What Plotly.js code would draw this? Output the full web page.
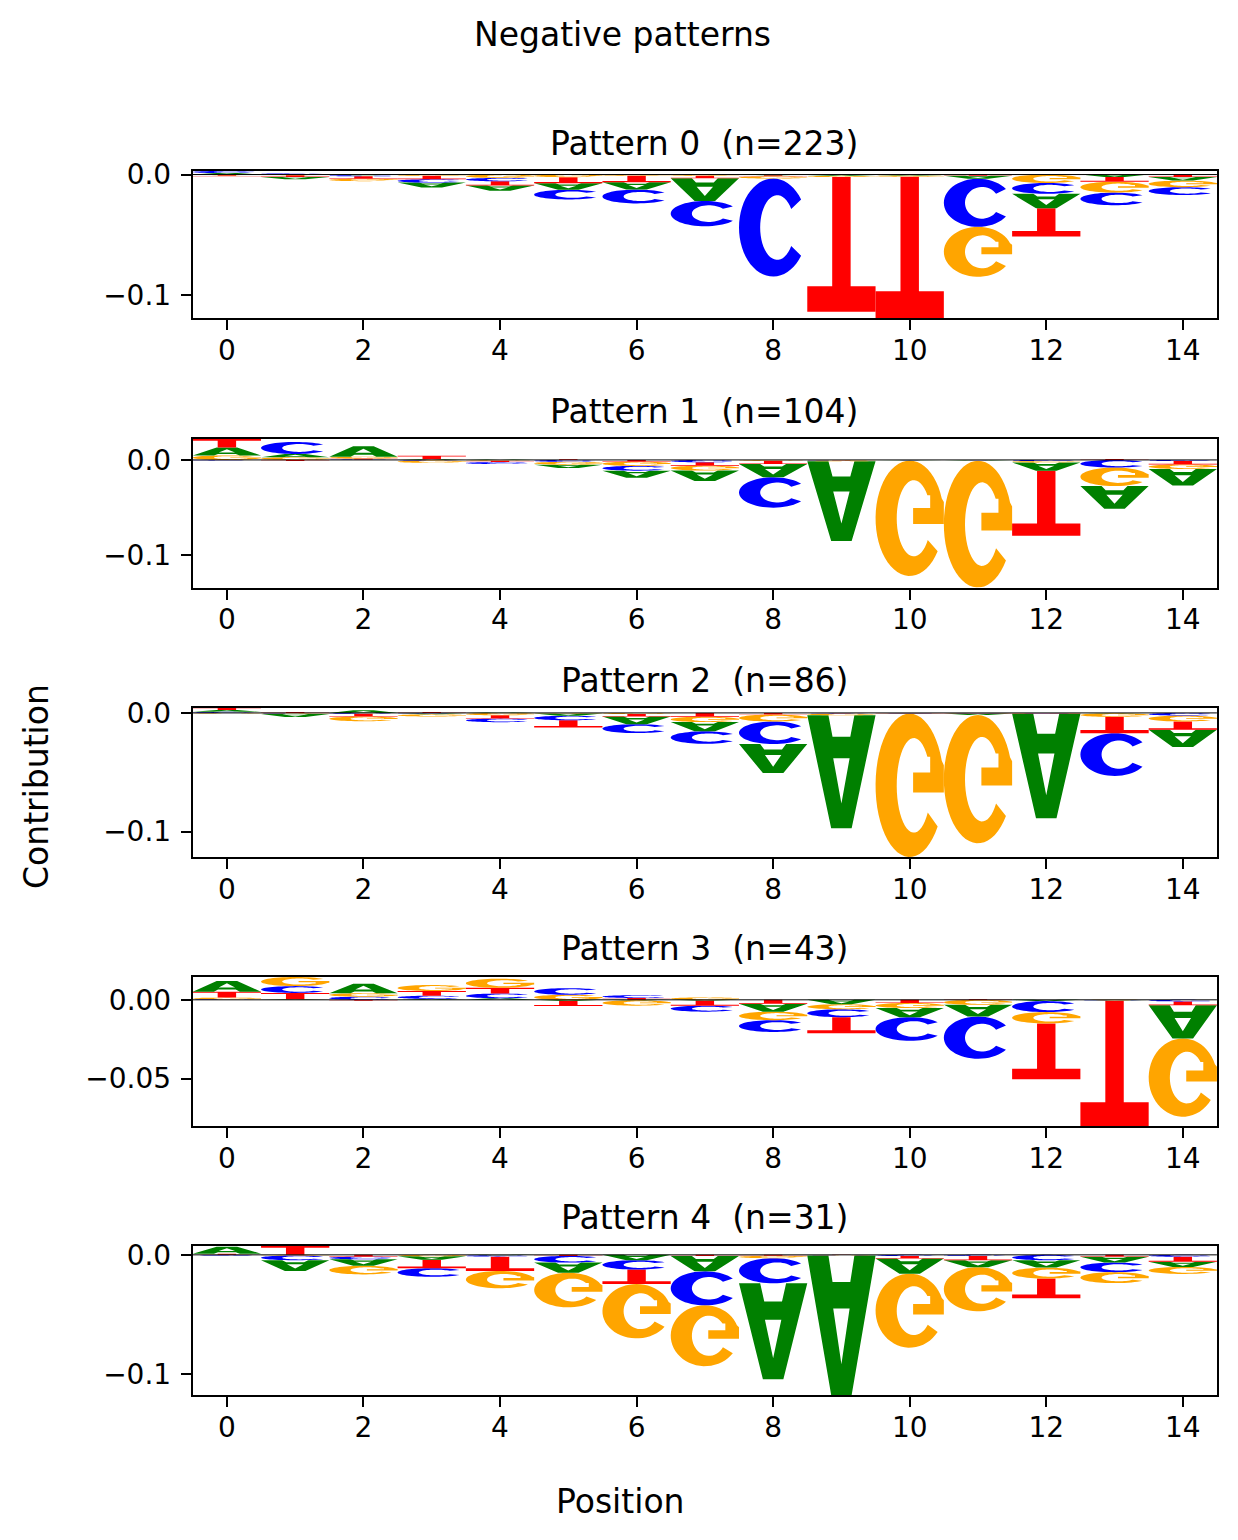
<!DOCTYPE html>
<html>
<head>
<meta charset="utf-8">
<script src="https://cdn.plot.ly/plotly-3.0.1.min.js"></script>
<style>
  body { margin: 0; background: #fff; }
  #logo { width: 1238px; height: 1540px; }
</style>
</head>
<body>
<div id="logo"></div>
<script>
// positions along the motif
var positions = [0, 1, 2, 3, 4, 5, 6, 7, 8, 9, 10, 11, 12, 13, 14];
var letters = ['A', 'C', 'G', 'T'];
var patternTitles = ['Pattern 0  (n=223)', 'Pattern 1  (n=104)', 'Pattern 2  (n=86)', 'Pattern 3  (n=43)', 'Pattern 4  (n=31)'];

// contribution per letter, read off the reference
// pattern 0
var p0A = [0.0012, -0.002, -0.0005, -0.004, -0.0042, -0.0055, -0.006, -0.019, -0.0005, -0.0008, -0.0005, -0.0025, -0.012, -0.002, -0.003];
var p0C = [0.0018, 0.001, -0.001, -0.0028, -0.0028, -0.008, -0.0115, -0.021, -0.0815, -0.0003, -0.0003, -0.040, -0.009, -0.0105, -0.0065];
var p0G = [-0.0005, -0.0005, -0.002, -0.0011, -0.0028, -0.0022, -0.001, -0.001, -0.0018, -0.001, -0.001, -0.0415, -0.007, -0.009, -0.0055];
var p0T = [-0.001, -0.0015, -0.002, -0.0028, -0.0036, -0.005, -0.0055, -0.002, -0.001, -0.112, -0.1175, -0.001, -0.0235, -0.004, -0.002];
// pattern 1
var p1A = [0.0082, 0.0035, 0.011, 0.0008, 0.0005, -0.0035, -0.0075, -0.011, -0.014, -0.084, -0.0003, -0.0005, -0.0088, -0.024, -0.0175];
var p1C = [-0.0005, 0.0126, 0.0005, -0.0006, -0.002, -0.002, -0.005, -0.0025, -0.032, -0.0003, -0.0002, -0.0002, -0.0012, -0.008, -0.0012];
var p1G = [0.0048, 0.0028, 0.0018, -0.0025, -0.0008, -0.003, -0.0045, -0.0052, -0.0008, -0.0008, -0.1215, -0.1335, -0.0015, -0.0195, -0.0048];
var p1T = [0.009, -0.001, 0.001, 0.0035, -0.0015, 0.0008, -0.0018, -0.0035, -0.0035, -0.0003, -0.0002, -0.0002, -0.0685, 0.001, -0.0035];
// pattern 2
var p2A = [0.0015, -0.0025, 0.0022, -0.0008, 0.0003, -0.002, -0.0065, -0.0078, -0.0245, -0.0952, -0.0002, -0.0014, -0.088, -0.0003, -0.0145];
var p2C = [0.0009, -0.0006, -0.0008, -0.0004, -0.003, -0.0038, -0.0075, -0.0105, -0.019, -0.0003, -0.0002, -0.0002, -0.0002, -0.036, -0.0022];
var p2G = [-0.0005, -0.0004, -0.004, -0.0018, -0.002, -0.0004, -0.001, -0.0045, -0.0058, -0.0014, -0.1208, -0.108, -0.0004, -0.003, -0.005];
var p2T = [0.0018, 0.0008, -0.0022, 0.0008, -0.0028, -0.006, -0.002, -0.0032, -0.0014, -0.0003, -0.0002, -0.0002, -0.0002, -0.0138, -0.007];
// pattern 3
var p3A = [0.0068, 0.0004, 0.006, 0.0006, 0.001, -0.0006, -0.0003, -0.0005, -0.005, -0.0028, -0.0058, -0.0074, -0.0008, -0.0002, -0.021];
var p3C = [0.0004, 0.0043, 0.002, 0.002, 0.003, 0.0042, 0.0017, -0.0038, -0.0075, -0.005, -0.015, -0.0268, -0.007, -0.0002, -0.001];
var p3G = [0.001, 0.0058, 0.0022, 0.0038, 0.0058, 0.0032, -0.0034, 0.0015, -0.0054, -0.0032, -0.0032, -0.0032, -0.0072, -0.0002, -0.0497];
var p3T = [0.0038, 0.004, -0.0006, 0.003, 0.0036, -0.0033, 0.0012, -0.0032, -0.0025, -0.0102, -0.002, 0.0005, -0.0354, -0.0795, -0.0025];
// pattern 4
var p4A = [0.0058, -0.009, -0.0055, -0.003, -0.0003, -0.0085, -0.0045, -0.0128, -0.0805, -0.1168, -0.0128, -0.0058, -0.0062, -0.005, -0.0044];
var p4C = [-0.0003, -0.004, -0.0022, -0.0072, -0.0012, -0.0056, -0.0078, -0.0285, -0.021, -0.0002, -0.001, -0.0009, -0.0045, -0.008, -0.0016];
var p4G = [-0.0002, -0.0005, -0.0072, -0.0012, -0.0145, -0.029, -0.0455, -0.051, -0.002, -0.0002, -0.062, -0.037, -0.0092, -0.0092, -0.0058];
var p4T = [0.001, 0.0074, -0.0015, -0.007, -0.012, -0.0009, -0.0122, -0.001, -0.0008, -0.0002, -0.002, -0.0036, -0.0165, -0.0015, -0.0042];

var patterns = [
    {A: p0A, C: p0C, G: p0G, T: p0T},
    {A: p1A, C: p1C, G: p1G, T: p1T},
    {A: p2A, C: p2C, G: p2G, T: p2T},
    {A: p3A, C: p3C, G: p3G, T: p3T},
    {A: p4A, C: p4C, G: p4G, T: p4T}
];

var colors = {A: '#008000', C: '#0000ff', G: '#ffa500', T: '#ff0000'};

///////////////////GLYPHS///////////////////
// outlines in a unit box, y up from the baseline
function arc(cx, cy, rx, ry, a0, a1, n) {
    var pts = [];
    for (var i = 0; i <= n; i++) {
        var a = (a0 + (a1 - a0) * i / n) * Math.PI / 180;
        pts.push([cx + rx * Math.cos(a), cy + ry * Math.sin(a)]);
    }
    return pts;
}

var glyphs = {
    A: [
        [[0, 0], [0.31, 0], [0.37, 0.19], [0.63, 0.19], [0.69, 0], [1, 0], [0.65, 1], [0.35, 1]],
        [[0.5, 0.78], [0.62, 0.38], [0.38, 0.38]]
    ],
    C: [
        arc(0.5, 0.5, 0.5, 0.5, 35, 325, 48).concat(arc(0.56, 0.5, 0.25, 0.33, 325, 35, 40))
    ],
    G: [
        arc(0.5, 0.5, 0.5, 0.5, 35, 340, 48)
            .concat([[1, 0.36], [1, 0.55], [0.55, 0.55], [0.55, 0.41], [0.8, 0.41], [0.8, 0.3]])
            .concat(arc(0.56, 0.5, 0.25, 0.33, 322.7, 35, 40))
    ],
    T: [
        [[0, 1], [1, 1], [1, 0.81], [0.635, 0.81], [0.635, 0], [0.365, 0], [0.365, 0.81], [0, 0.81]]
    ]
};

function glyphPath(ch, xc, y0, h, flip) {
    var d = '';
    glyphs[ch].forEach(function(poly) {
        poly.forEach(function(p, i) {
            var gy = flip ? 1 - p[1] : p[1];
            d += (i == 0 ? 'M' : 'L') + (xc - 0.5 + p[0]).toFixed(4) + ',' + (y0 + gy * h).toFixed(6);
        });
        d += 'Z';
    });
    return d;
}

// big_on_top stacking: negatives grow down from 0, positives up from 0
function stackColumn(pat, k) {
    var vals = letters.map(function(l) { return {l: l, v: pat[l][k]}; });
    vals.sort(function(a, b) { return a.v - b.v; });
    var floor = 0;
    vals.forEach(function(o) { if (o.v < 0) floor += o.v; });
    var top = 0;
    var out = [];
    vals.forEach(function(o) {
        if (o.v < 0) {
            out.push({l: o.l, y0: floor, h: -o.v, flip: true});
            floor += -o.v;
        } else if (o.v > 0) {
            out.push({l: o.l, y0: top, h: o.v, flip: false});
            top += o.v;
        }
    });
    return out;
}

///////////////////LAYOUT///////////////////
var xDomain = [0.1557, 0.983];
var yDomains = [[0.7935, 0.889], [0.6185, 0.7149], [0.4435, 0.5403], [0.2688, 0.3656], [0.0942, 0.1909]];
var titleY = [0.9071, 0.7325, 0.5578, 0.3838, 0.2091];

var fontFam = 'DejaVu Sans, Liberation Sans, sans-serif';
var traces = [];
var shapes = [];
var annotations = [];
var layout = {
    width: 1238,
    height: 1540,
    margin: {l: 0, r: 0, t: 0, b: 0},
    paper_bgcolor: '#ffffff',
    plot_bgcolor: '#ffffff',
    showlegend: false,
    font: {family: fontFam, color: '#000000'}
};

for (var n = 0; n < patterns.length; n++) {
    var sfx = n == 0 ? '' : String(n + 1);
    var pat = patterns[n];
    var ymin = 0, ymax = 0;
    for (var k = 0; k < positions.length; k++) {
        var col = stackColumn(pat, k);
        var lo = 0, hi = 0;
        col.forEach(function(g) {
            shapes.push({
                type: 'path',
                xref: 'x' + sfx,
                yref: 'y' + sfx,
                layer: 'below',
                path: glyphPath(g.l, positions[k], g.y0, g.h, g.flip),
                fillcolor: colors[g.l],
                line: {width: 0}
            });
            lo = Math.min(lo, g.y0);
            hi = Math.max(hi, g.y0 + g.h);
        });
        ymin = Math.min(ymin, lo);
        ymax = Math.max(ymax, hi);
    }

    // baseline at zero
    traces.push({
        x: [positions[0] - 0.5, positions[positions.length - 1] + 0.5],
        y: [0, 0],
        xaxis: 'x' + sfx,
        yaxis: 'y' + sfx,
        mode: 'lines',
        line: {color: '#000000', width: 1},
        hoverinfo: 'skip'
    });

    var yt = n == 3 ? [-0.05, 0] : [-0.1, 0];
    var ytt = n == 3 ? ['\u22120.05', '0.00'] : ['\u22120.1', '0.0'];

    layout['xaxis' + sfx] = {
        domain: xDomain,
        anchor: 'y' + sfx,
        range: [-0.5, 14.5],
        tickvals: positions.filter(function(p) { return p % 2 == 0; }),
        ticks: 'outside', ticklen: 10, tickwidth: 2, tickcolor: '#000',
        ticklabelstandoff: -4,
        showline: true, mirror: true, linewidth: 2, linecolor: '#000',
        showgrid: false, zeroline: false,
        tickfont: {size: 28, family: fontFam, color: '#000'}
    };
    layout['yaxis' + sfx] = {
        domain: yDomains[n],
        anchor: 'x' + sfx,
        range: [ymin, ymax],
        tickvals: yt,
        ticktext: ytt,
        ticks: 'outside', ticklen: 10, tickwidth: 2, tickcolor: '#000',
        ticklabelstandoff: 4,
        showline: true, mirror: true, linewidth: 2, linecolor: '#000',
        showgrid: false, zeroline: false,
        tickfont: {size: 28, family: fontFam, color: '#000'}
    };

    annotations.push({
        text: patternTitles[n].replace('  ', ' \u00a0'),
        xref: 'paper', yref: 'paper',
        x: (xDomain[0] + xDomain[1]) / 2, y: titleY[n],
        xanchor: 'center', yanchor: 'middle',
        showarrow: false,
        font: {size: 33, family: fontFam, color: '#000'}
    });
}

annotations.push({
    text: 'Negative patterns',
    xref: 'paper', yref: 'paper', x: 622 / 1238, y: 1 - 35 / 1540,
    xanchor: 'center', yanchor: 'middle', showarrow: false,
    font: {size: 33, family: fontFam, color: '#000'}
});
annotations.push({
    text: 'Contribution',
    xref: 'paper', yref: 'paper', x: 36 / 1238, y: 1 - 787 / 1540,
    xanchor: 'center', yanchor: 'middle', showarrow: false, textangle: -90,
    font: {size: 33, family: fontFam, color: '#000'}
});
annotations.push({
    text: 'Position',
    xref: 'paper', yref: 'paper', x: 621 / 1238, y: 1 - 1501 / 1540,
    xanchor: 'center', yanchor: 'middle', showarrow: false,
    font: {size: 33, family: fontFam, color: '#000'}
});

layout.shapes = shapes;
layout.annotations = annotations;

Plotly.newPlot('logo', traces, layout, {staticPlot: true});
</script>
</body>
</html>
